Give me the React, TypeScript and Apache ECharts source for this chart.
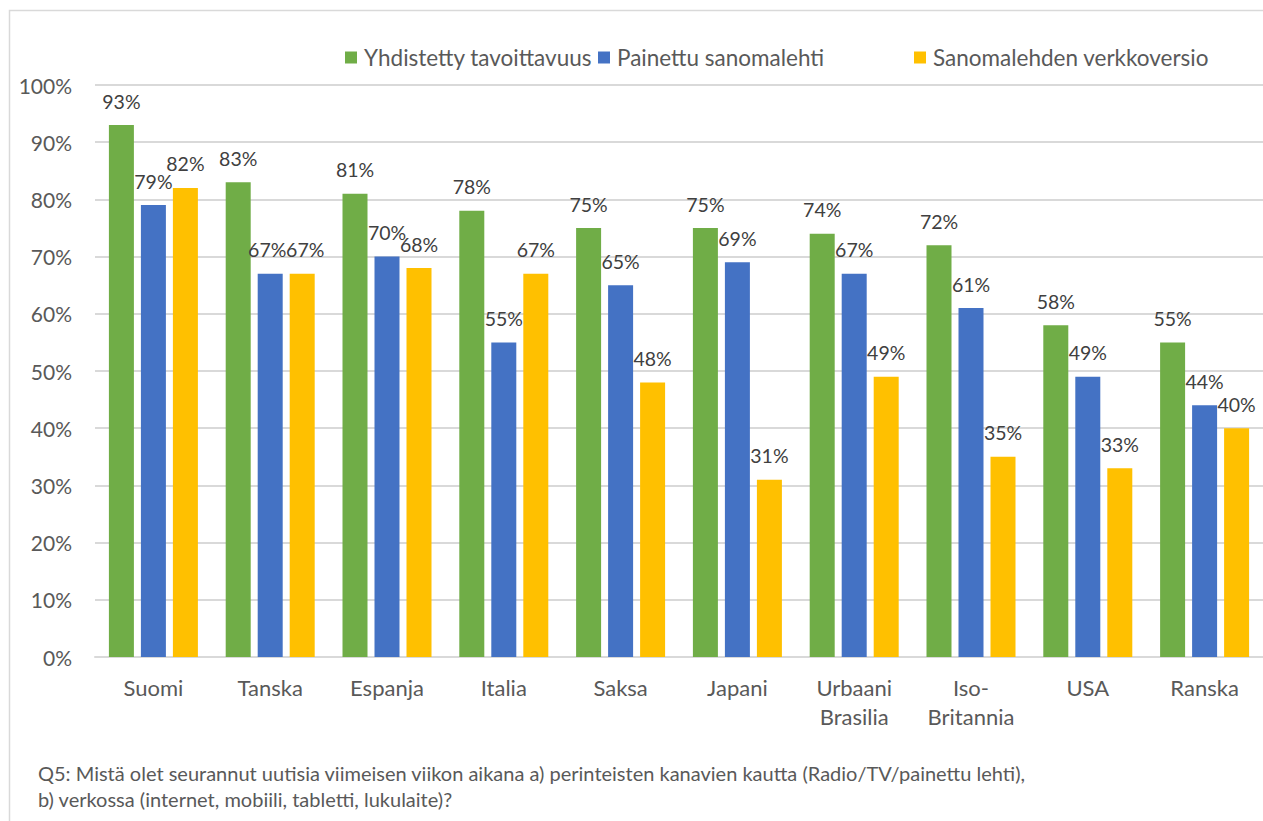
import React, { useEffect, useRef } from "react";
import * as echarts from "echarts";

const categories = ["Suomi", "Tanska", "Espanja", "Italia", "Saksa", "Japani", "Urbaani\nBrasilia", "Iso-\nBritannia", "USA", "Ranska"];
const seriesNames = ["Yhdistetty tavoittavuus", "Painettu sanomalehti", "Sanomalehden verkkoversio"];
const combined = [93, 83, 81, 78, 75, 75, 74, 72, 58, 55];
const printed = [79, 67, 70, 55, 65, 69, 67, 61, 49, 44];
const online = [82, 67, 68, 67, 48, 31, 49, 35, 33, 40];
const colors = ["#70AD47", "#4472C4", "#FFC000"];
const footnote = [
  "Q5: Mistä olet seurannut uutisia viimeisen viikon aikana a) perinteisten kanavien kautta (Radio/TV/painettu lehti),",
  "b) verkossa (internet, mobiili, tabletti, lukulaite)?",
];

const FONT = "Lato, 'Open Sans', sans-serif";

export default function App() {
  const ref = useRef<HTMLDivElement>(null);
  useEffect(() => {
    if (!ref.current) return;
    const chart = echarts.init(ref.current, undefined, { renderer: "svg" });
    const values = [combined, printed, online];
    const legendLefts = [345, 598, 914];
    // small horizontal nudges so touching labels (as in the reference) don't overlap
    const nudge = (si: number, ci: number) => {
      if (ci === 1 && si === 1) return [-3, 0];
      if (ci === 1 && si === 2) return [3, 0];
      return [0, 0];
    };
    chart.setOption({
      animation: false,
      textStyle: { fontFamily: FONT },
      legend: seriesNames.map((n, i) => ({
        data: [n],
        left: legendLefts[i],
        top: 46,
        padding: 0,
        icon: "rect",
        itemWidth: 12,
        itemHeight: 12,
        itemGap: 6,
        textStyle: { fontSize: 22.5, color: "#595959", fontFamily: FONT, padding: [0, 0, 0, 2] },
      })),
      grid: { left: 95, top: 85, width: 1175, bottom: 164, containLabel: false },
      xAxis: {
        type: "category",
        data: categories,
        axisLine: { lineStyle: { color: "#D9D9D9", width: 2 } },
        axisTick: { show: false },
        axisLabel: { color: "#595959", fontSize: 22, margin: 16, lineHeight: 29, fontFamily: FONT },
      },
      yAxis: {
        type: "value",
        min: 0,
        max: 100,
        interval: 10,
        axisLine: { show: false },
        axisTick: { show: false },
        splitLine: { lineStyle: { color: "#D9D9D9", width: 2 } },
        axisLabel: { formatter: "{value}%", color: "#595959", fontSize: 21, margin: 23, fontFamily: FONT },
      },
      series: seriesNames.map((n, si) => ({
        name: n,
        type: "bar",
        data: values[si].map((v, ci) => ({ value: v, label: { offset: nudge(si, ci) } })),
        barWidth: 25,
        barGap: "28%",
        itemStyle: { color: colors[si] },
        label: {
          show: true,
          position: "top",
          distance: 14,
          formatter: "{c}%",
          color: "#404040",
          fontSize: 19.5,
          fontFamily: FONT,
        },
      })),
      graphic: [
        {
          type: "rect",
          shape: { x: 9.5, y: 10.5, width: 1400, height: 1000 },
          style: { fill: "none", stroke: "#D9D9D9", lineWidth: 1.5 },
          silent: true,
        },
        {
          type: "text",
          left: 38,
          top: 760,
          style: { text: footnote.join("\n"), fontSize: 20, lineHeight: 26, fill: "#595959", fontFamily: FONT },
        },
      ],
    });
    return () => chart.dispose();
  }, []);
  return (
    <div style={{ position: "absolute", left: 0, top: 0, width: 1263, height: 821, overflow: "hidden", background: "#fff" }}>
      <div ref={ref} style={{ width: 1263, height: 821 }} />
    </div>
  );
}
